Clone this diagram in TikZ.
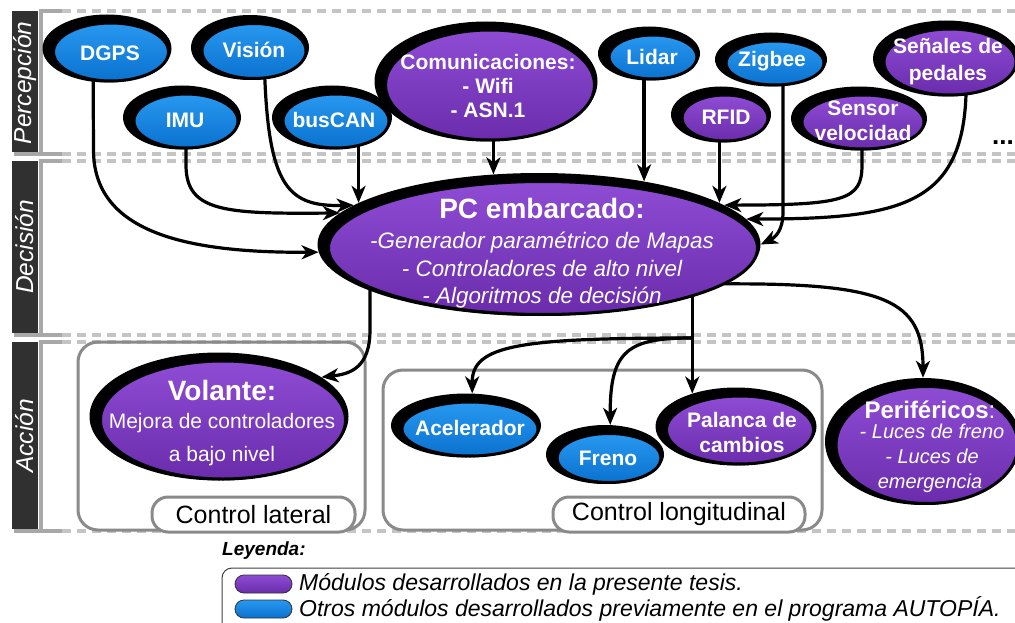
\documentclass[tikz,border=0pt]{standalone}
\usepackage{fontspec}
\setmainfont{Liberation Sans}
\usetikzlibrary{shapes.geometric,arrows.meta,calc}
\definecolor{bluT}{HTML}{2898F0}
\definecolor{bluB}{HTML}{0A72CF}
\definecolor{purT}{HTML}{8E4CD4}
\definecolor{purB}{HTML}{6A2CAC}
\definecolor{frameG}{HTML}{8A8A8A}
\definecolor{dashG}{HTML}{C4C4C4}
\definecolor{stubG}{HTML}{A8A8A8}
\definecolor{barD}{HTML}{303030}
\pgfdeclarelayer{back}
\pgfdeclarelayer{edges}
\pgfsetlayers{back,edges,main}
\tikzset{
  sh/.style={ellipse, fill=black, draw=none, inner sep=0pt},
  fillE/.style={ellipse, draw=black, line width=3pt, inner sep=0pt},
  bl/.style={fillE, top color=bluT, bottom color=bluB},
  pu/.style={fillE, top color=purT, bottom color=purB},
  lbl/.style={text=white, font=\bfseries\fontsize{21}{25}\selectfont, align=center, inner sep=0pt},
  ittxt/.style={text=white, font=\itshape\fontsize{22.4}{26}\selectfont, inner sep=0pt, anchor=base},
  conn/.style={line width=3.2pt, -{Stealth[length=17pt,width=14pt,inset=5pt]}},
  dashline/.style={dashG, line width=3.5pt, dash pattern=on 9pt off 6pt},
  stubline/.style={stubG, line width=3.5pt},
  grpframe/.style={frameG, line width=3pt, rounded corners=20pt},
  labbox/.style={draw=frameG, fill=white, line width=3pt, rounded corners=16pt, inner sep=0pt, font=\fontsize{25}{28}\selectfont},
  bandtxt/.style={rotate=90, text=white, font=\itshape\fontsize{24.5}{28}\selectfont, inner sep=0pt},
  pill/.style={rectangle, rounded corners=9pt, minimum width=57pt, minimum height=18pt, draw=black!80, line width=0.8pt, inner sep=0pt},
  legtxt/.style={anchor=west, inner sep=0pt, font=\itshape\fontsize{23}{26}\selectfont}
}
\newcommand\modnode[6]{%
  \node[sh, minimum width={(#5+16)*1pt}, minimum height={(#6+12)*1pt}] (#1) at ({#3-4},{#4-3.5}) {};
  \node[#2, minimum width={(#5+2)*1pt}, minimum height={(#6+2)*1pt}] (#1F) at (#3,#4) {};}
\begin{document}
\begin{tikzpicture}[x=1pt,y=-1pt]
\useasboundingbox (0,0) rectangle (1015,623);

% ---------- bands ----------
\begin{pgfonlayer}{back}
\fill[white] (0,0) rectangle (1015,623);
\foreach \yy in {11,154,161,335,342,531} \draw[dashline] (62,\yy) -- (1025,\yy);
\draw[stubline] (62,11) -- (41,11) -- (41,153);
\draw[stubline] (14,154) -- (62,154);
\draw[stubline] (62,161) -- (41,161) -- (41,334);
\draw[stubline] (14,335) -- (62,335);
\draw[stubline] (62,342) -- (41,342) -- (41,530);
\draw[stubline] (14,531) -- (62,531);
\fill[barD] (12,11) rectangle (38,152);
\fill[barD] (12,161) rectangle (38,333);
\fill[barD] (12,342) rectangle (38,529);
\draw[grpframe] (78,342) rectangle (365,530);
\draw[grpframe] (383,370) rectangle (822,530);
\end{pgfonlayer}
\node[bandtxt] (bP) at (25,83) {Percepción};
\node[bandtxt] (bD) at (25,247) {Decisión};
\node[bandtxt] (bA) at (25,436) {Acción};

% ---------- modules ----------
\modnode{dgps}{bl}{111}{52}{113}{56}
\modnode{vision}{bl}{254}{51}{102}{53}
\modnode{imu}{bl}{186}{121}{102}{52}
\modnode{buscan}{bl}{336}{121}{104}{52}
\modnode{com}{pu}{490}{85}{207}{108}
\modnode{lidar}{bl}{653}{57}{86}{42}
\modnode{zigbee}{bl}{775}{63}{96}{42}
\modnode{rfid}{pu}{725}{118}{84}{44}
\modnode{sensor}{pu}{863}{122}{120}{52}
\modnode{senales}{pu}{950}{62}{130}{64}
\modnode{pc}{pu}{543}{248}{427}{131}
\modnode{volante}{pu}{223}{420}{243}{116}
\modnode{acel}{bl}{470}{429}{134}{52}
\modnode{freno}{bl}{609}{458}{102}{47}
\modnode{palanca}{pu}{740}{430}{145}{66}
\modnode{perif}{pu}{927}{445}{180}{115}

\node[lbl] (dgpsT) at (110,53) {DGPS};
\node[lbl] (visionT) at (254,50) {Visión};
\node[lbl] (imuT) at (185,120) {IMU};
\node[lbl] (buscanT) at (334,120) {busCAN};
\node[lbl, font=\bfseries\fontsize{21}{24}\selectfont] (comT) at (488,86) {Comunicaciones:\\- Wifi\\- ASN.1};
\node[lbl] (lidarT) at (652,57) {Lidar};
\node[lbl] (zigbeeT) at (772,61) {Zigbee};
\node[lbl] (rfidT) at (726,117) {RFID};
\node[lbl] (sensorT) at (863,120.5) {Sensor\\velocidad};
\node[lbl, font=\bfseries\fontsize{21}{26.5}\selectfont] (senalesT) at (948,61.5) {Señales de\\pedales};
\node[font=\bfseries\fontsize{26}{26}\selectfont, inner sep=0pt] (dots) at (1003,143) {...};

\node[text=white, font=\bfseries\fontsize{28}{30}\selectfont, inner sep=0pt, anchor=base] (pcT1) at (542,218) {PC embarcado:};
\node[ittxt] (pcT2) at (542,248) {-Generador paramétrico de Mapas};
\node[ittxt] (pcT3) at (542,276) {- Controladores de alto nivel};
\node[ittxt] (pcT4) at (542,303) {- Algoritmos de decisión};

\node[text=white, font=\bfseries\fontsize{28}{30}\selectfont, inner sep=0pt, anchor=base] (volT1) at (222,400) {Volante:};
\node[text=white, font=\fontsize{21}{24}\selectfont, inner sep=0pt, anchor=base] (volT2) at (222,428) {Mejora de controladores};
\node[text=white, font=\fontsize{21}{24}\selectfont, inner sep=0pt, anchor=base] (volT3) at (222,461) {a bajo nivel};

\node[lbl] (acelT) at (470,428) {Acelerador};
\node[lbl] (frenoT) at (608,458) {Freno};
\node[lbl] (palancaT) at (742,432.5) {Palanca de\\cambios};

\node[text=white, inner sep=0pt, anchor=base] (perT1) at (930,418) {\bfseries\fontsize{24}{26}\selectfont Periféricos\mdseries:};
\node[text=white, font=\itshape\fontsize{20}{24}\selectfont, inner sep=0pt, anchor=base] (perT2) at (932,438) {- Luces de freno};
\node[text=white, font=\itshape\fontsize{20}{24}\selectfont, inner sep=0pt, anchor=base] (perT3) at (932,463) {- Luces de};
\node[text=white, font=\itshape\fontsize{20}{24}\selectfont, inner sep=0pt, anchor=base] (perT4) at (930,488) {emergencia};

\node[labbox, minimum width=203pt, minimum height=35pt] (clat) at (253.5,514.5) {Control lateral};
\node[labbox, minimum width=252pt, minimum height=35pt] (clon) at (679,514.5) {Control longitudinal};

% ---------- connectors ----------
\coordinate (br) at (palanca.143.4 |- 0,338);
\begin{pgfonlayer}{edges}
\draw[conn] ([xshift=-14pt]dgps.center) -- (93.5,150) .. controls (93.5,232) and (185,253) .. (pc.182.2);
\draw[conn] ([xshift=4pt]imu.center) -- (186,165) .. controls (186,212) and (225,214) .. (pc.171.3);
\draw[conn] ([xshift=14pt]vision.center) .. controls (266,185) and (285,207) .. (pc.168.75);
\draw[conn] (pc.167.2 |- buscan.center) -- (pc.167.2);
\draw[conn] (pc.123.9 |- com.center) -- (pc.123.9);
\draw[conn] (pc.31.2 |- lidar.center) -- (pc.31.2);
\draw[conn] (pc.13.2 |- rfid.center) -- (pc.13.2);
\draw[conn] ([xshift=12pt]zigbee.center) -- (783,212) .. controls (783,232) and (774,238) .. (pc.0);
\draw[conn] ([xshift=3pt]sensor.center) -- (862,165) .. controls (862,200) and (845,205) .. (pc.12.08);
\draw[conn] ([xshift=20pt]senales.center) -- (966,95) .. controls (962,205) and (900,219) .. (pc.7.03);
\draw[conn] ([xshift=-169pt]pc.center) -- (370,330) .. controls (370,368) and (350,374) .. (volante.21);
\draw[conn] (palanca.143.4 |- pc.center) -- (palanca.143.4);
\draw[conn] (br) .. controls (520,338) and (472,345) .. (acel.79.3);
\draw[conn] (br) .. controls (628,338) and (610,350) .. (freno.80.3);
\draw[conn] (pc.-12.5) .. controls (885,283) and (923,300) .. (perif.north);
\end{pgfonlayer}

% ---------- legend ----------
\node[anchor=west, inner sep=0pt, font=\bfseries\itshape\fontsize{19}{22}\selectfont] (ley) at (222,551) {Leyenda:};
\draw[black!75, line width=1pt, rounded corners=10pt] (222,568) rectangle (1040,660);
\node[pill, top color=purT, bottom color=purB] (lpu) at (263.5,584) {};
\node[pill, top color=bluT, bottom color=bluB] (lbl2) at (263.5,609) {};
\node[legtxt] (lt1) at (299,584) {Módulos desarrollados en la presente tesis.};
\node[legtxt] (lt2) at (299,609) {Otros módulos desarrollados previamente en el programa AUTOPÍA.};
\end{tikzpicture}
\end{document}
